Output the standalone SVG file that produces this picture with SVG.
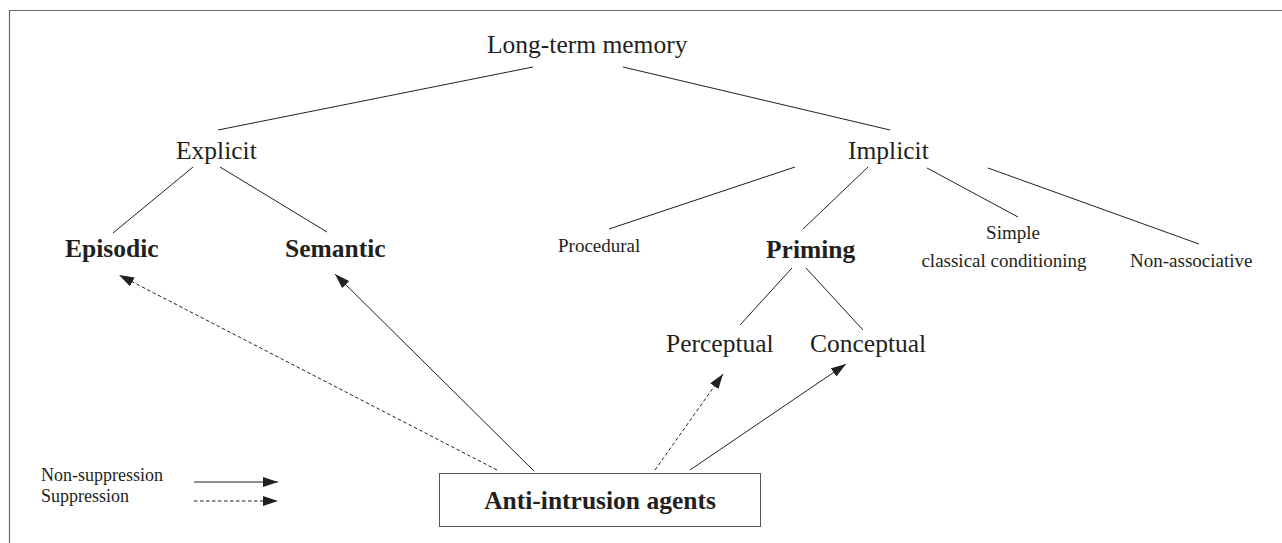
<svg xmlns="http://www.w3.org/2000/svg" width="1282" height="543" viewBox="0 0 1282 543">
<style>
text{font-family:"Liberation Serif","Times New Roman",serif;fill:#231f20}
.l{font-size:25.5px}
.b{font-size:25.5px;font-weight:bold}
.s{font-size:19px}
.g{font-size:18px}
.ln{stroke:#231f20;stroke-width:1;fill:none}
.d{stroke-dasharray:3.5 2.5}
</style>
<defs>
<marker id="ah" markerUnits="userSpaceOnUse" markerWidth="15" markerHeight="10" refX="15" refY="5" orient="auto">
<path d="M0,0 L15,5 L0,10 z" fill="#231f20"/>
</marker>
</defs>
<rect width="1282" height="543" fill="#fff"/>
<g id="frame" stroke="#666" stroke-width="1.2" fill="none">
<path d="M9.5,543 V10.5 H1282"/>
</g>
<g id="connectors">
<line class="ln" x1="218" y1="130" x2="533" y2="67"/>
<line class="ln" x1="623" y1="67" x2="890" y2="130"/>
<line class="ln" x1="193" y1="167" x2="113" y2="233"/>
<line class="ln" x1="220" y1="167" x2="327" y2="232"/>
<line class="ln" x1="795" y1="167" x2="609" y2="229"/>
<line class="ln" x1="868" y1="167" x2="803" y2="229"/>
<line class="ln" x1="927" y1="168" x2="1018" y2="217"/>
<line class="ln" x1="988" y1="168" x2="1199" y2="244"/>
<line class="ln" x1="792" y1="268" x2="740" y2="325"/>
<line class="ln" x1="806" y1="268" x2="863" y2="330"/>
<line class="ln d" x1="497" y1="470" x2="119" y2="275" marker-end="url(#ah)"/>
<line class="ln" x1="534" y1="471" x2="335" y2="274" marker-end="url(#ah)"/>
<line class="ln d" x1="655" y1="470" x2="723" y2="374" marker-end="url(#ah)"/>
<line class="ln" x1="690" y1="470" x2="846" y2="364" marker-end="url(#ah)"/>
</g>
<g id="ltm"><text class="l" x="487" y="53">Long-term memory</text></g>
<g id="explicit"><text class="l" x="176" y="159">Explicit</text></g>
<g id="implicit"><text class="l" x="848" y="159">Implicit</text></g>
<g id="episodic"><text class="b" x="65" y="257">Episodic</text></g>
<g id="semantic"><text class="b" x="285" y="257">Semantic</text></g>
<g id="procedural"><text class="s" x="558" y="252">Procedural</text></g>
<g id="priming"><text class="b" x="766" y="258">Priming</text></g>
<g id="simple"><text class="s" x="1013" y="239" text-anchor="middle">Simple</text><text class="s" x="1004" y="267" text-anchor="middle">classical conditioning</text></g>
<g id="nonassoc"><text class="s" x="1130" y="267">Non-associative</text></g>
<g id="perceptual"><text class="l" x="666" y="352">Perceptual</text></g>
<g id="conceptual"><text class="l" x="810" y="352">Conceptual</text></g>
<g id="agents">
<rect x="439.5" y="473.5" width="321" height="53" fill="#fff" stroke="#555" stroke-width="1"/>
<text class="b" x="600" y="509" text-anchor="middle">Anti-intrusion agents</text>
</g>
<g id="legend">
<text class="g" x="41" y="480.5">Non-suppression</text>
<text class="g" x="41" y="501.5">Suppression</text>
<line class="ln" x1="194" y1="482" x2="278" y2="482" marker-end="url(#ah)"/>
<line class="ln d" x1="194" y1="501" x2="278" y2="501" marker-end="url(#ah)"/>
</g>
</svg>
